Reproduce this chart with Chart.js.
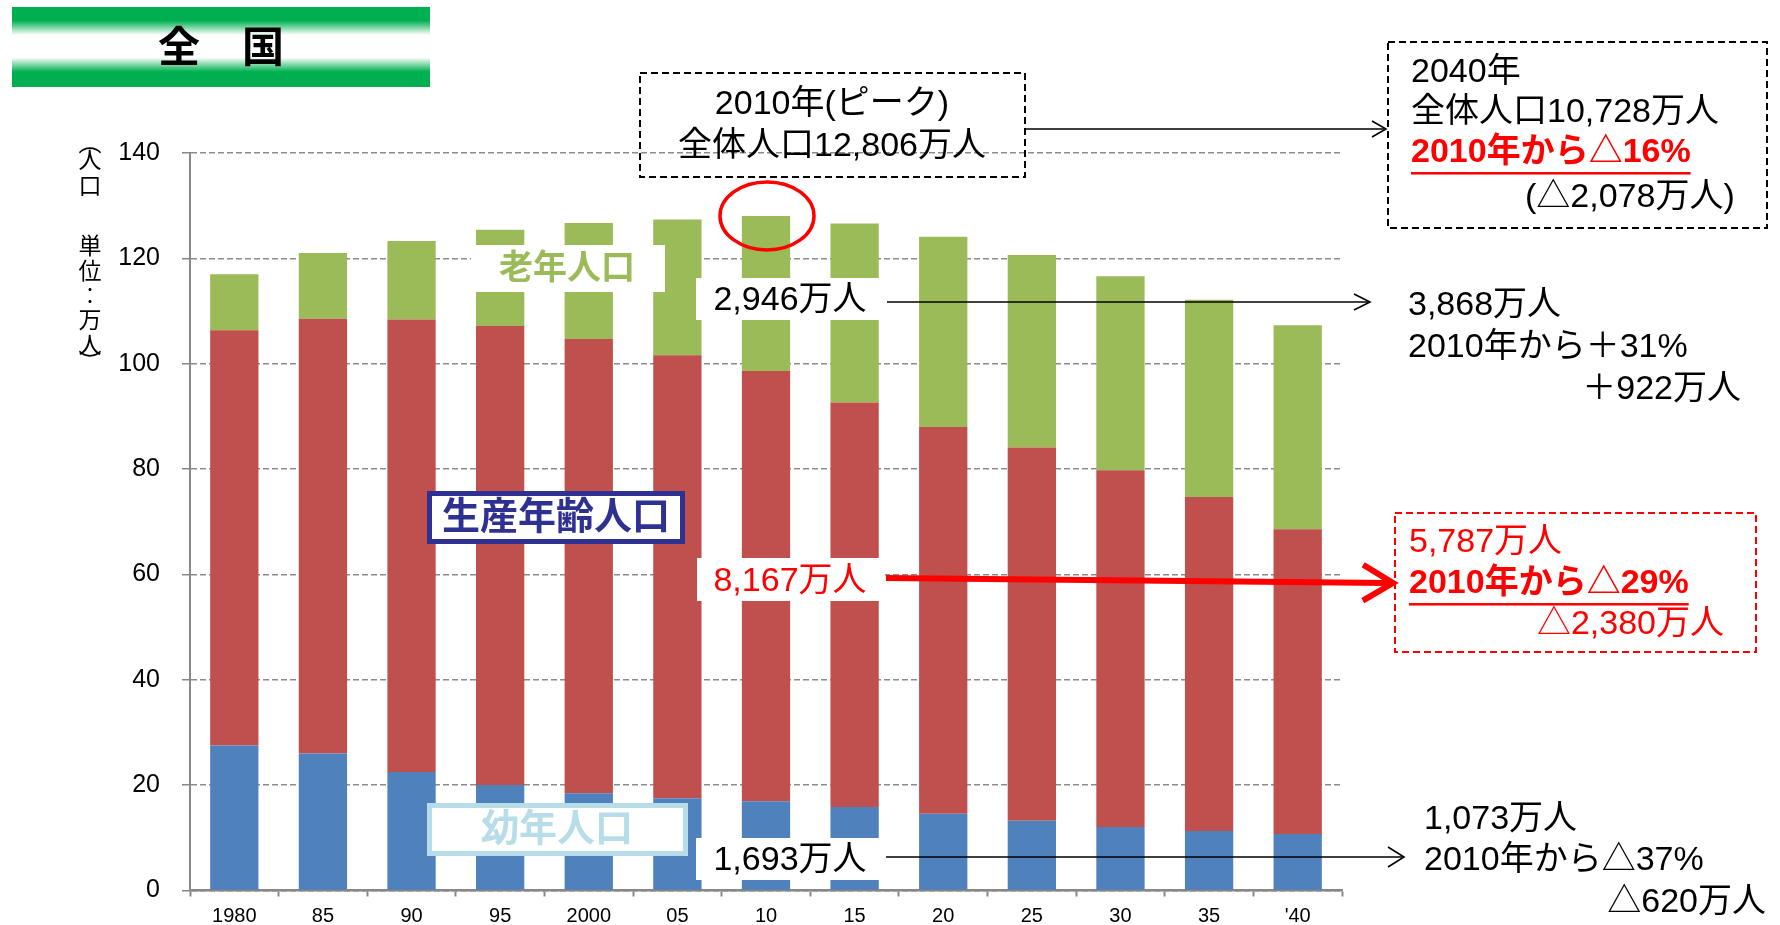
<!DOCTYPE html>
<html>
<head>
<meta charset="utf-8">
<script src="https://cdn.jsdelivr.net/npm/chart.js@4.4.1/dist/chart.umd.min.js"></script>
<style>
  html, body { margin: 0; padding: 0; background: #fff; overflow: hidden; }
  canvas { display: block; }
</style>
</head>
<body>
<canvas id="c" width="1780" height="925"></canvas>
<script>
// Census years and projections
const years = ['1980', '85', '90', '95', '2000', '05', '10', '15', '20', '25', '30', '35', "'40"];
// Population by age group (万人)
const young   = [2751, 2603, 2249, 2001, 1847, 1752, 1693, 1583, 1457, 1324, 1204, 1129, 1073];
const working = [7884, 8251, 8590, 8716, 8622, 8409, 8167, 7682, 7341, 7085, 6773, 6343, 5787];
const elderly = [1065, 1247, 1489, 1826, 2204, 2576, 2946, 3395, 3612, 3657, 3685, 3741, 3868];
// Vertical axis ticks (百万人 on the scale)
const yTicks = [0, 20, 40, 60, 80, 100, 120, 140];

const PEAK = 6;   // 2010
const LAST = 12;  // 2040

const FONT = "'Liberation Sans', 'Noto Sans CJK JP', sans-serif";
Chart.defaults.font.family = FONT;

const fmt = v => v.toLocaleString('en-US');
const total = i => young[i] + working[i] + elderly[i];
const pct = (a, b) => Math.round(Math.abs(b - a) / a * 100);

function txt(ctx, s, x, y, o = {}) {
  const size = o.size || 34;
  ctx.save();
  ctx.font = `${o.bold ? 'bold ' : ''}${size}px ${FONT}`;
  ctx.fillStyle = o.color || '#000';
  ctx.textAlign = o.align || 'left';
  ctx.textBaseline = 'middle';
  ctx.fillText(s, x, y);
  if (o.underline) {
    const w = ctx.measureText(s).width;
    const x0 = o.align === 'center' ? x - w / 2 : o.align === 'right' ? x - w : x;
    ctx.fillRect(x0, y + size * 0.56, w, 2.5);
  }
  ctx.restore();
}

function whiteBox(ctx, x, y, w, h) {
  ctx.save();
  ctx.fillStyle = '#fff';
  ctx.fillRect(x, y, w, h);
  ctx.restore();
}

function dashedBox(ctx, x, y, w, h, color) {
  ctx.save();
  ctx.strokeStyle = color;
  ctx.lineWidth = 2;
  ctx.setLineDash([7, 4]);
  ctx.strokeRect(x, y, w, h);
  ctx.restore();
}

function framedBox(ctx, x, y, w, h, color, lw) {
  ctx.save();
  ctx.fillStyle = '#fff';
  ctx.fillRect(x, y, w, h);
  ctx.strokeStyle = color;
  ctx.lineWidth = lw;
  ctx.strokeRect(x + lw / 2, y + lw / 2, w - lw, h - lw);
  ctx.restore();
}

function arrow(ctx, x1, y1, x2, y2, color, w, hl, hw) {
  const a = Math.atan2(y2 - y1, x2 - x1);
  ctx.save();
  ctx.strokeStyle = color;
  ctx.lineWidth = w;
  ctx.beginPath();
  ctx.moveTo(x1, y1);
  ctx.lineTo(x2 - Math.cos(a) * w, y2 - Math.sin(a) * w);
  ctx.stroke();
  ctx.lineJoin = 'miter';
  ctx.beginPath();
  ctx.moveTo(x2 - hl * Math.cos(a) + hw * Math.sin(a), y2 - hl * Math.sin(a) - hw * Math.cos(a));
  ctx.lineTo(x2, y2);
  ctx.lineTo(x2 - hl * Math.cos(a) - hw * Math.sin(a), y2 - hl * Math.sin(a) + hw * Math.cos(a));
  ctx.stroke();
  ctx.restore();
}

const overlay = {
  id: 'overlay',
  afterDraw(chart) {
    const ctx = chart.ctx;
    const xs = chart.scales.x, ys = chart.scales.y;

    // Heading band
    const g = ctx.createLinearGradient(0, 7, 0, 87);
    g.addColorStop(0, '#00B050');
    g.addColorStop(0.17, '#00B050');
    g.addColorStop(0.35, '#ffffff');
    g.addColorStop(0.63, '#ffffff');
    g.addColorStop(0.81, '#00B050');
    g.addColorStop(1, '#00B050');
    ctx.save();
    ctx.fillStyle = g;
    ctx.fillRect(12, 7, 418, 80);
    ctx.restore();
    txt(ctx, '全　国', 221, 50, { size: 42, bold: true, align: 'center' });

    // Vertical axis title
    const title = [['︵', 145], ['人', 162], ['口', 188], ['単', 248], ['位', 273], ['︰', 298], ['万', 322], ['人', 347], ['︶', 364]];
    title.forEach(([ch, y]) => txt(ctx, ch, 90, y, { size: 23, align: 'center' }));

    // Peak marker on the 2010 bar
    const px = xs.getPixelForValue(PEAK);
    const py = ys.getPixelForValue(total(PEAK) / 100);
    ctx.save();
    ctx.strokeStyle = '#FF0000';
    ctx.lineWidth = 3.5;
    ctx.beginPath();
    ctx.ellipse(px + 1, py, 47, 34, 0, 0, Math.PI * 2);
    ctx.stroke();
    ctx.restore();

    // 2010 peak callout
    dashedBox(ctx, 640, 73, 385, 104, '#000');
    txt(ctx, '2010年(ピーク)', 832, 105, { align: 'center' });
    txt(ctx, `全体人口${fmt(total(PEAK))}万人`, 832, 147, { align: 'center' });
    arrow(ctx, 1025, 129, 1386, 129, '#000', 1.6, 14, 8);

    // 2040 total callout
    dashedBox(ctx, 1388, 42, 379, 186, '#000');
    txt(ctx, '2040年', 1411, 73);
    txt(ctx, `全体人口${fmt(total(LAST))}万人`, 1411, 113);
    txt(ctx, `2010年から△${pct(total(PEAK), total(LAST))}%`, 1411, 153, { bold: true, color: '#FF0000', underline: true });
    txt(ctx, `(△${fmt(total(PEAK) - total(LAST))}万人)`, 1525, 198);

    // Elderly
    whiteBox(ctx, 471, 245, 194, 47);
    txt(ctx, '老年人口', 567, 270, { size: 34, bold: true, color: '#9BBB59', align: 'center' });
    whiteBox(ctx, 696, 278, 190, 42);
    txt(ctx, `${fmt(elderly[PEAK])}万人`, 790, 301, { align: 'center' });
    arrow(ctx, 887, 302, 1370, 302, '#000', 1.6, 16, 8);
    txt(ctx, `${fmt(elderly[LAST])}万人`, 1408, 306);
    txt(ctx, `2010年から＋${pct(elderly[PEAK], elderly[LAST])}%`, 1408, 348);
    txt(ctx, `＋${fmt(elderly[LAST] - elderly[PEAK])}万人`, 1741, 390, { align: 'right' });

    // Working age
    framedBox(ctx, 427, 491, 258, 53, '#2E3192', 5);
    txt(ctx, '生産年齢人口', 556, 519, { size: 38, bold: true, color: '#2E3192', align: 'center' });
    whiteBox(ctx, 697, 558, 188, 43);
    txt(ctx, `${fmt(working[PEAK])}万人`, 790, 582, { color: '#FF0000', align: 'center' });
    arrow(ctx, 886, 578, 1393, 583, '#FF0000', 6, 30, 18);
    dashedBox(ctx, 1395, 513, 361, 139, '#FF0000');
    txt(ctx, `${fmt(working[LAST])}万人`, 1409, 543, { color: '#FF0000' });
    txt(ctx, `2010年から△${pct(working[PEAK], working[LAST])}%`, 1409, 584, { bold: true, color: '#FF0000', underline: true });
    txt(ctx, `△${fmt(working[PEAK] - working[LAST])}万人`, 1724, 625, { color: '#FF0000', align: 'right' });

    // Young
    framedBox(ctx, 427, 803, 261, 53, '#B7DEE8', 5);
    txt(ctx, '幼年人口', 557, 831, { size: 38, bold: true, color: '#B7DEE8', align: 'center' });
    whiteBox(ctx, 696, 838, 190, 42);
    txt(ctx, `${fmt(young[PEAK])}万人`, 790, 861, { align: 'center' });
    arrow(ctx, 886, 857, 1404, 857, '#000', 1.6, 16, 10);
    txt(ctx, `${fmt(young[LAST])}万人`, 1424, 820);
    txt(ctx, `2010年から△${pct(young[PEAK], young[LAST])}%`, 1424, 861);
    txt(ctx, `△${fmt(young[PEAK] - young[LAST])}万人`, 1766, 903, { align: 'right' });
  }
};

new Chart(document.getElementById('c'), {
  type: 'bar',
  data: {
    labels: years,
    datasets: [
      { label: '幼年人口', data: young.map(v => v / 100), backgroundColor: '#4F81BD' },
      { label: '生産年齢人口', data: working.map(v => v / 100), backgroundColor: '#C0504D' },
      { label: '老年人口', data: elderly.map(v => v / 100), backgroundColor: '#9BBB59' }
    ]
  },
  options: {
    responsive: false,
    animation: false,
    devicePixelRatio: 1,
    layout: { padding: { top: 153, right: 438, bottom: 0, left: 0 } },
    plugins: { legend: { display: false }, tooltip: { enabled: false } },
    datasets: { bar: { categoryPercentage: 1, barPercentage: 0.545 } },
    scales: {
      x: {
        stacked: true,
        grid: { display: true, drawOnChartArea: false, drawTicks: true, tickLength: 6, tickColor: '#888', tickWidth: 2, offset: true },
        border: { color: '#888', width: 2.5 },
        ticks: { font: { size: 20 }, color: '#000', padding: 8, maxRotation: 0, autoSkip: false },
        afterFit: s => { s.height = 34; }
      },
      y: {
        stacked: true,
        min: 0,
        max: 140,
        afterBuildTicks: s => { s.ticks = yTicks.map(v => ({ value: v })); },
        ticks: { font: { size: 25, lineHeight: 1 }, color: '#000', padding: 22 },
        grid: { color: '#8c8c8c', lineWidth: 1.5, tickLength: 8, tickColor: '#888', tickWidth: 1.5 },
        border: { color: '#888', width: 2, dash: [6, 3] },
        afterFit: s => { s.width = 190; }
      }
    }
  },
  plugins: [overlay]
});
</script>
</body>
</html>
